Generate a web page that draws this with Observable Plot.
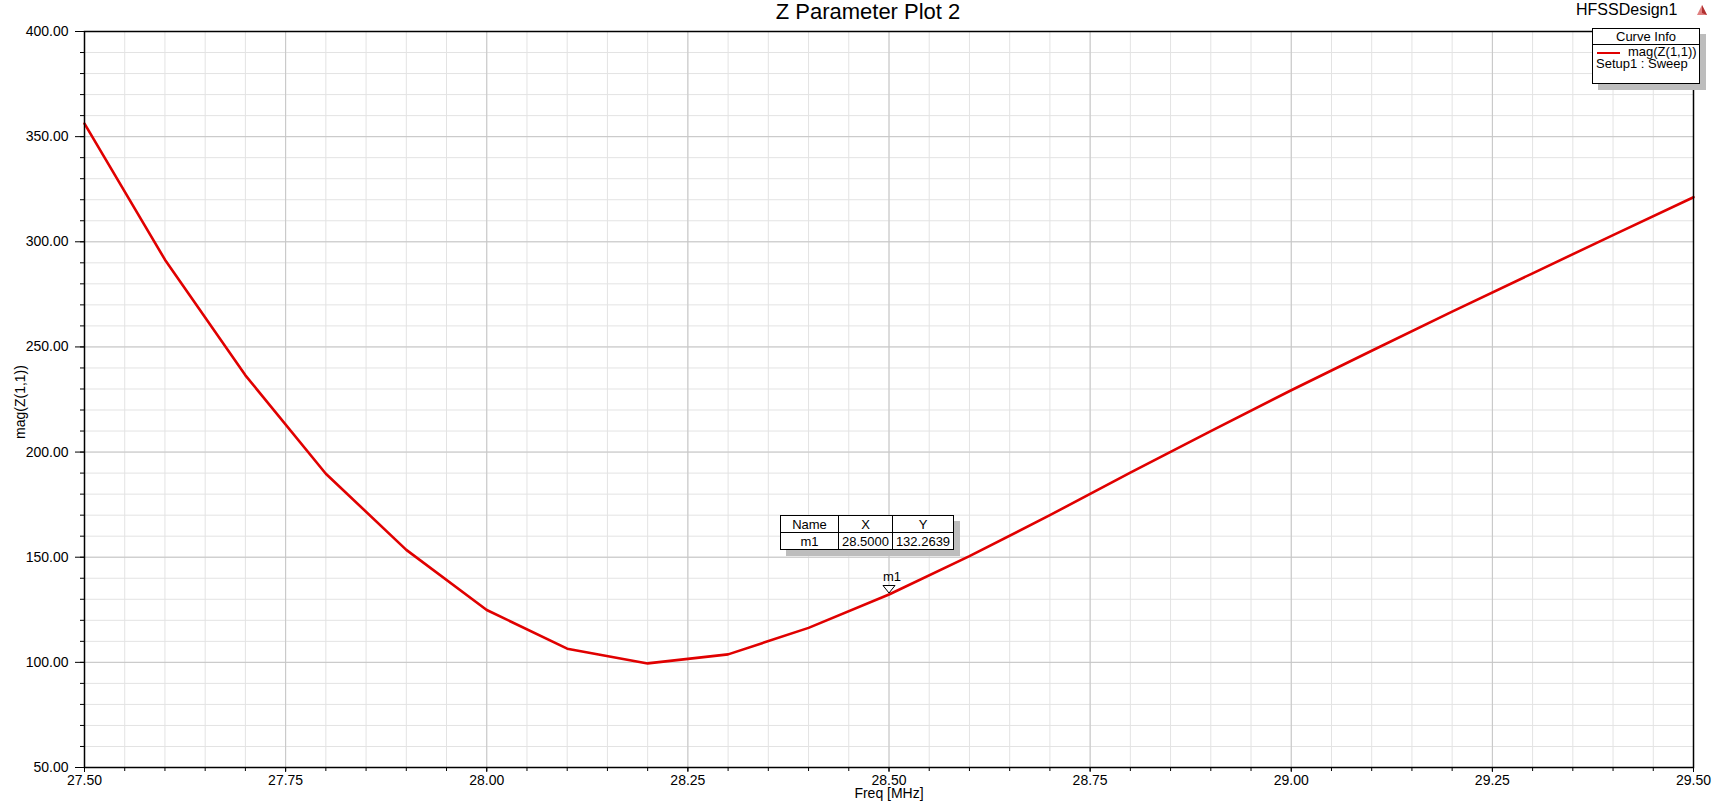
<!DOCTYPE html>
<html>
<head>
<meta charset="utf-8">
<script src="https://cdn.jsdelivr.net/npm/d3@7"></script>
<script src="https://cdn.jsdelivr.net/npm/@observablehq/plot@0.6"></script>
<style>
  body { margin: 0; background: #fff; font-family: "Liberation Sans", Arial, sans-serif; }
  #wrap { position: relative; width: 1725px; height: 801px; overflow: hidden; background: #fff; }
  .abs { position: absolute; white-space: nowrap; color: #000; }
  #legend { position: absolute; left: 1592px; top: 28px; width: 106px; height: 54px; border: 1px solid #000;
            background: #fff; box-shadow: 6px 6px 0 #bdbdbd; font-size: 13px; }
  #legend .hdr { position: absolute; left: 0; top: 0; width: 100%; height: 15px; border-bottom: 1px solid #000;
                 text-align: center; line-height: 15px; }
  #mtable { position: absolute; left: 780px; top: 515px; border-collapse: collapse; background: #fff;
            box-shadow: 6px 6px 0 #bdbdbd; font-size: 13px; }
  #mtable td { border: 1px solid #000; padding: 0; height: 16px; line-height: 15px; text-align: center; }
</style>
</head>
<body>
<div id="wrap"></div>
<script>
// ---- data ----
const freqs = [27.5, 27.6, 27.7, 27.8, 27.9, 28.0, 28.1, 28.2, 28.3, 28.4, 28.5,
               28.6, 28.7, 28.8, 28.9, 29.0, 29.1, 29.2, 29.3, 29.4, 29.5];
const magZ  = [356.2, 291.5, 236.5, 189.7, 153.5, 124.9, 106.5, 99.5, 103.8, 116.4, 132.2639,
               150.5, 170.0, 190.2, 210.0, 229.4, 248.2, 266.8, 285.0, 303.2, 321.2];
const xMajorTicks = [27.5, 27.75, 28.0, 28.25, 28.5, 28.75, 29.0, 29.25, 29.5];
const xTickLabels = ["27.50", "27.75", "28.00", "28.25", "28.50", "28.75", "29.00", "29.25", "29.50"];
const yMajorTicks = [50, 100, 150, 200, 250, 300, 350, 400];
const yTickLabels = ["50.00", "100.00", "150.00", "200.00", "250.00", "300.00", "350.00", "400.00"];
const markerName = ["m1"];
const markerX = [28.5];
const markerY = [132.2639];

const xMinorTicks = d3.range(0, 41).map(i => +(27.5 + i * 0.05).toFixed(2));
const yMinorTicks = d3.range(50, 401, 10);

const data = freqs.map((f, i) => ({f, z: magZ[i]}));
const markers = markerName.map((n, i) => ({name: n, x: markerX[i], y: markerY[i]}));

const downTriangle = {
  draw(ctx) {
    ctx.moveTo(-6, -9);
    ctx.lineTo(6, -9);
    ctx.lineTo(0, -1.5);
    ctx.closePath();
  }
};

const plot = Plot.plot({
  width: 1725,
  height: 801,
  marginLeft: 84,
  marginRight: 32,
  marginTop: 31,
  marginBottom: 34,
  style: { fontFamily: "'Liberation Sans', Arial, sans-serif", fontSize: "14px", background: "#fff", color: "#000" },
  x: { domain: [27.5, 29.5], label: null },
  y: { domain: [50, 400], label: null },
  marks: [
    Plot.ruleX(xMinorTicks, { stroke: "#e3e3e3", strokeWidth: 1 }),
    Plot.ruleY(yMinorTicks, { stroke: "#e3e3e3", strokeWidth: 1 }),
    Plot.ruleX(xMajorTicks, { stroke: "#c6c6c6", strokeWidth: 1 }),
    Plot.ruleY(yMajorTicks, { stroke: "#c6c6c6", strokeWidth: 1 }),
    Plot.axisY({ ticks: yMinorTicks, tickSize: 4, tickFormat: () => "", stroke: "#000", label: null }),
    Plot.axisY({ ticks: yMajorTicks, tickSize: 9, tickPadding: 7, stroke: "#000", fill: "#000",
                 tickFormat: d => yTickLabels[yMajorTicks.indexOf(d)], label: null }),
    Plot.axisX({ ticks: xMinorTicks, tickSize: 4, tickFormat: () => "", stroke: "#000", label: null }),
    Plot.axisX({ ticks: xMajorTicks, tickSize: 5, tickPadding: 3, stroke: "#000", fill: "#000",
                 tickFormat: d => xTickLabels[xMajorTicks.indexOf(d)], label: null }),
    Plot.line(data, { x: "f", y: "z", stroke: "#e00000", strokeWidth: 2.6 }),
    Plot.frame({ stroke: "#000", strokeWidth: 1.5 }),
    Plot.dot(markers, { x: "x", y: "y", symbol: downTriangle, r: 5, stroke: "#000", fill: "#fff", strokeWidth: 1 }),
    Plot.text(markers, { x: "x", y: "y", text: "name", dy: -18, dx: 3, fontSize: 13, fill: "#000" })
  ]
});

const wrap = document.getElementById("wrap");
wrap.appendChild(plot);

function addText(txt, left, top, size, extra) {
  const d = document.createElement("div");
  d.className = "abs";
  d.textContent = txt;
  d.style.left = left + "px";
  d.style.top = top + "px";
  d.style.fontSize = size + "px";
  if (extra) Object.assign(d.style, extra);
  wrap.appendChild(d);
  return d;
}

// title
addText("Z Parameter Plot 2", 868, 0, 22, { transform: "translateX(-50%)", lineHeight: "23px" });
// design name
addText("HFSSDesign1", 1576, 1, 16);
// small icon
const icon = document.createElementNS("http://www.w3.org/2000/svg", "svg");
icon.setAttribute("width", "12"); icon.setAttribute("height", "12");
icon.style.position = "absolute"; icon.style.left = "1696px"; icon.style.top = "4px";
icon.innerHTML = '<polygon points="6,1 11,11 1,11" fill="#e08080"/><polygon points="6,1 11,11 6,9" fill="#b03030"/>';
wrap.appendChild(icon);

// y label
addText("mag(Z(1,1))", 20, 402, 14, { transform: "translate(-50%,-50%) rotate(-90deg)", left: "20px" });
// x label
addText("Freq [MHz]", 889, 785, 14, { transform: "translateX(-50%)" });

// legend
const lg = document.createElement("div");
lg.id = "legend";
lg.innerHTML = '<div class="hdr">Curve Info</div>' +
  '<div class="abs" style="left:4px;top:23px;width:23px;height:2px;background:#e00000"></div>' +
  '<div class="abs" style="left:35px;top:17px;line-height:12px">mag(Z(1,1))</div>' +
  '<div class="abs" style="left:3px;top:29px;line-height:12px">Setup1 : Sweep</div>';
wrap.appendChild(lg);

// marker table
const tb = document.createElement("table");
tb.id = "mtable";
tb.innerHTML = '<tr><td style="width:57px">Name</td><td style="width:53px">X</td><td style="width:60px">Y</td></tr>' +
  markers.map(m => `<tr><td>${m.name}</td><td>${m.x.toFixed(4)}</td><td>${m.y.toFixed(4)}</td></tr>`).join("");
wrap.appendChild(tb);
</script>
</body>
</html>
